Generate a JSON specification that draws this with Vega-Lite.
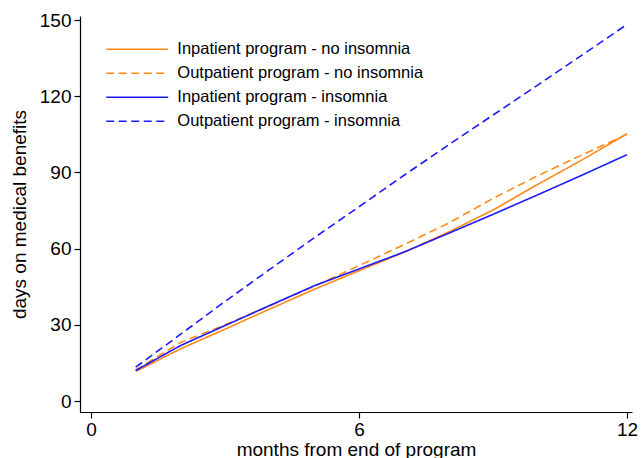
{
  "$schema": "https://vega.github.io/schema/vega-lite/v6.json",
  "width": 552,
  "height": 396,
  "autosize": {"type": "none"},
  "padding": {"left": 80, "top": 16, "right": 9, "bottom": 46},
  "background": "white",
  "config": {
    "view": {"stroke": null},
    "font": "Liberation Sans",
    "axis": {
      "grid": false,
      "domainColor": "black",
      "tickColor": "black",
      "labelColor": "black",
      "titleColor": "black",
      "labelFont": "Liberation Sans",
      "titleFont": "Liberation Sans",
      "labelFontSize": 19,
      "titleFontSize": 19,
      "titleFontWeight": "normal",
      "domainWidth": 1.2,
      "tickWidth": 1.2,
      "tickSize": 6
    },
    "legend": {
      "labelFont": "Liberation Sans",
      "labelFontSize": 16.5,
      "labelColor": "black",
      "labelLimit": 500
    }
  },
  "data": {
    "values": [
      {"series": "Inpatient program - no insomnia", "month": 1, "days": 11.6},
      {"series": "Inpatient program - no insomnia", "month": 2, "days": 20.5},
      {"series": "Inpatient program - no insomnia", "month": 3, "days": 28.3},
      {"series": "Inpatient program - no insomnia", "month": 4, "days": 36.2},
      {"series": "Inpatient program - no insomnia", "month": 5, "days": 44.0},
      {"series": "Inpatient program - no insomnia", "month": 6, "days": 51.3},
      {"series": "Inpatient program - no insomnia", "month": 7, "days": 58.5},
      {"series": "Inpatient program - no insomnia", "month": 8, "days": 66.5},
      {"series": "Inpatient program - no insomnia", "month": 9, "days": 75.2},
      {"series": "Inpatient program - no insomnia", "month": 10, "days": 85.3},
      {"series": "Inpatient program - no insomnia", "month": 11, "days": 95.0},
      {"series": "Inpatient program - no insomnia", "month": 12, "days": 105.3},
      {"series": "Outpatient program - no insomnia", "month": 1, "days": 12.2},
      {"series": "Outpatient program - no insomnia", "month": 2, "days": 23.0},
      {"series": "Outpatient program - no insomnia", "month": 3, "days": 30.0},
      {"series": "Outpatient program - no insomnia", "month": 4, "days": 37.5},
      {"series": "Outpatient program - no insomnia", "month": 5, "days": 45.2},
      {"series": "Outpatient program - no insomnia", "month": 6, "days": 53.3},
      {"series": "Outpatient program - no insomnia", "month": 7, "days": 61.5},
      {"series": "Outpatient program - no insomnia", "month": 8, "days": 70.0},
      {"series": "Outpatient program - no insomnia", "month": 9, "days": 79.8},
      {"series": "Outpatient program - no insomnia", "month": 10, "days": 88.7},
      {"series": "Outpatient program - no insomnia", "month": 11, "days": 97.0},
      {"series": "Outpatient program - no insomnia", "month": 12, "days": 105.0},
      {"series": "Inpatient program - insomnia", "month": 1, "days": 12.0},
      {"series": "Inpatient program - insomnia", "month": 2, "days": 21.8},
      {"series": "Inpatient program - insomnia", "month": 3, "days": 29.7},
      {"series": "Inpatient program - insomnia", "month": 4, "days": 37.6},
      {"series": "Inpatient program - insomnia", "month": 5, "days": 45.4},
      {"series": "Inpatient program - insomnia", "month": 6, "days": 52.0},
      {"series": "Inpatient program - insomnia", "month": 7, "days": 58.6},
      {"series": "Inpatient program - insomnia", "month": 8, "days": 66.0},
      {"series": "Inpatient program - insomnia", "month": 9, "days": 73.5},
      {"series": "Inpatient program - insomnia", "month": 10, "days": 81.2},
      {"series": "Inpatient program - insomnia", "month": 11, "days": 89.0},
      {"series": "Inpatient program - insomnia", "month": 12, "days": 97.0},
      {"series": "Outpatient program - insomnia", "month": 1, "days": 13.3},
      {"series": "Outpatient program - insomnia", "month": 2, "days": 26.2},
      {"series": "Outpatient program - insomnia", "month": 3, "days": 39.2},
      {"series": "Outpatient program - insomnia", "month": 4, "days": 51.8},
      {"series": "Outpatient program - insomnia", "month": 5, "days": 64.3},
      {"series": "Outpatient program - insomnia", "month": 6, "days": 76.5},
      {"series": "Outpatient program - insomnia", "month": 7, "days": 88.8},
      {"series": "Outpatient program - insomnia", "month": 8, "days": 100.8},
      {"series": "Outpatient program - insomnia", "month": 9, "days": 112.6},
      {"series": "Outpatient program - insomnia", "month": 10, "days": 124.4},
      {"series": "Outpatient program - insomnia", "month": 11, "days": 136.3},
      {"series": "Outpatient program - insomnia", "month": 12, "days": 148.3}
    ]
  },
  "mark": {"type": "line", "strokeWidth": 1.6, "clip": false},
  "encoding": {
    "x": {
      "field": "month",
      "type": "quantitative",
      "scale": {"domain": [-0.246, 12.11], "nice": false, "zero": false},
      "axis": {"values": [0, 6, 12], "title": "months from end of program", "labelPadding": 2, "titlePadding": 1, "labelFlush": false}
    },
    "y": {
      "field": "days",
      "type": "quantitative",
      "scale": {"domain": [-4.33, 151.6], "nice": false, "zero": false},
      "axis": {"values": [0, 30, 60, 90, 120, 150], "title": "days on medical benefits", "labelPadding": 3, "titlePadding": 10, "labelFlush": false}
    },
    "color": {
      "field": "series",
      "type": "nominal",
      "scale": {
        "domain": ["Inpatient program - no insomnia", "Outpatient program - no insomnia", "Inpatient program - insomnia", "Outpatient program - insomnia"],
        "range": ["#ff8a17", "#ff8a17", "#1a1aff", "#1a1aff"]
      },
      "legend": {
        "title": null,
        "orient": "none",
        "legendX": 45.7,
        "legendY": 21.7,
        "padding": 0,
        "symbolType": "M-3,0H3",
        "symbolSize": 427,
        "symbolStrokeWidth": 1.6,
        "labelOffset": 28.6,
        "rowPadding": 4
      }
    },
    "strokeDash": {
      "field": "series",
      "type": "nominal",
      "scale": {
        "domain": ["Inpatient program - no insomnia", "Outpatient program - no insomnia", "Inpatient program - insomnia", "Outpatient program - insomnia"],
        "range": [[1, 0], [8, 4.5], [1, 0], [8, 4.5]]
      },
      "legend": {
        "title": null,
        "orient": "none",
        "legendX": 45.7,
        "legendY": 21.7,
        "padding": 0,
        "symbolType": "M-3,0H3",
        "symbolSize": 427,
        "symbolStrokeWidth": 1.6,
        "labelOffset": 28.6,
        "rowPadding": 4
      }
    }
  }
}
